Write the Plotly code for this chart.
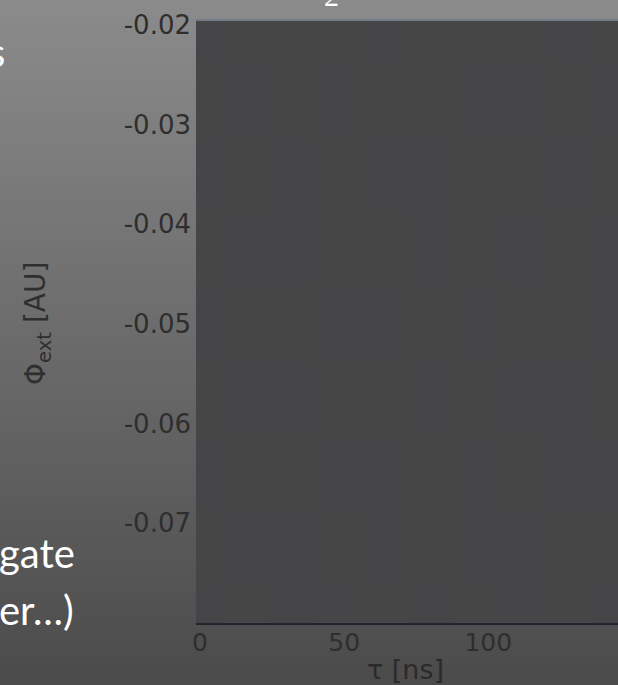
import plotly.graph_objects as go

# ---- data ----
tau_ns = [0, 16, 32, 48, 64, 80, 96, 112, 128, 144]
phi_ext = [-0.080, -0.0725, -0.065, -0.0575, -0.050, -0.0425, -0.035, -0.0275, -0.020]
signal = [
    [4, 5, 4, 6, 5, 4, 5, 6, 5, 4],
    [5, 4, 6, 5, 4, 5, 6, 4, 5, 5],
    [4, 5, 5, 4, 6, 5, 4, 5, 6, 4],
    [5, 6, 4, 5, 5, 4, 5, 6, 4, 5],
    [4, 5, 5, 6, 4, 5, 4, 5, 5, 6],
    [5, 4, 6, 5, 5, 6, 5, 4, 5, 4],
    [4, 5, 4, 5, 6, 4, 5, 5, 4, 5],
    [5, 4, 5, 4, 5, 5, 6, 4, 5, 4],
    [4, 5, 5, 5, 4, 5, 5, 5, 4, 5],
]
x_ticks = [0, 50, 100, 150]
x_tick_labels = ["0", "50", "100", "150"]
y_ticks = [-0.02, -0.03, -0.04, -0.05, -0.06, -0.07]
y_tick_labels = ["-0.02", "-0.03", "-0.04", "-0.05", "-0.06", "-0.07"]

W, H = 618, 685
L, T, B, R = 196, 20, 62, 0
PW, PH = W - L - R, H - T - B

fig = go.Figure()
fig.add_trace(go.Heatmap(
    x=tau_ns, y=phi_ext, z=signal,
    colorscale=[[0, "#434344"], [1, "#48484a"]],
    zmin=0, zmax=9, showscale=False, hoverinfo="skip",
))

# slide background gradient (vertical)
shapes = []
step = 5
for ypx in range(0, H, step):
    g = int(round(139 - 0.094 * (ypx + step / 2)))
    col = f"rgb({g},{g},{g})"
    y0 = (H - B - (ypx + step)) / PH
    y1 = (H - B - ypx) / PH
    shapes.append(dict(type="rect", xref="paper", yref="paper",
                       x0=-L / PW - 0.01, x1=1.01, y0=y0, y1=y1,
                       fillcolor=col, line=dict(width=0), layer="below"))
# top border of plot
shapes.append(dict(type="line", xref="paper", yref="paper", x0=0, x1=1, y0=1, y1=1,
                   line=dict(color="#747a88", width=2)))

def px_x(p):
    return (p - L) / PW

def px_y(p):
    return (H - B - p) / PH

annotations = [
    dict(text="Φ<sub>ext</sub> [AU]", textangle=-90, x=px_x(38), y=px_y(324),
         xref="paper", yref="paper", xanchor="center", yanchor="middle",
         showarrow=False,
         font=dict(family="DejaVu Sans", size=28, color="#2f2f2f")),
    dict(text="τ [ns]", x=px_x(405), y=px_y(669), xref="paper", yref="paper",
         xanchor="center", yanchor="middle",
         showarrow=False, font=dict(family="DejaVu Sans", size=27, color="#2a2a2a")),
    dict(text="gate", x=px_x(-3), y=px_y(553), xref="paper", yref="paper",
         xanchor="left", yanchor="middle", showarrow=False,
         font=dict(family="Lato", size=40, color="white")),
    dict(text="er…)", x=px_x(-3), y=px_y(610), xref="paper", yref="paper",
         xanchor="left", yanchor="middle", showarrow=False,
         font=dict(family="Lato", size=40, color="white")),
    dict(text="s", x=px_x(7), y=px_y(52), xref="paper", yref="paper",
         xanchor="right", yanchor="middle", showarrow=False,
         font=dict(family="Lato", size=40, color="white")),
    dict(text="2", x=px_x(331), y=px_y(-4), xref="paper", yref="paper",
         xanchor="center", yanchor="middle", showarrow=False,
         font=dict(family="Liberation Serif", size=30, color="white")),
]

fig.update_layout(
    width=W, height=H,
    margin=dict(l=L, r=R, t=T, b=B, pad=0),
    paper_bgcolor="#6f6f6f",
    plot_bgcolor="rgba(0,0,0,0)",
    shapes=shapes,
    annotations=annotations,
    showlegend=False,
    xaxis=dict(range=[-1.4, 145], tickvals=x_ticks, ticktext=x_tick_labels,
               ticks="", showgrid=False, ticklabelstandoff=-4,
               zeroline=False, showline=True, linecolor="#1f2630", linewidth=2,
               tickfont=dict(family="DejaVu Sans", size=25, color="#2e2e2e")),
    yaxis=dict(range=[-0.08, -0.0195], tickvals=y_ticks, ticktext=y_tick_labels,
               ticks="", showgrid=False, zeroline=False, showline=False,
               ticklabelstandoff=4,
               tickfont=dict(family="DejaVu Sans", size=26, color="#2e2e2e")),
)

fig.write_html("out.html")
